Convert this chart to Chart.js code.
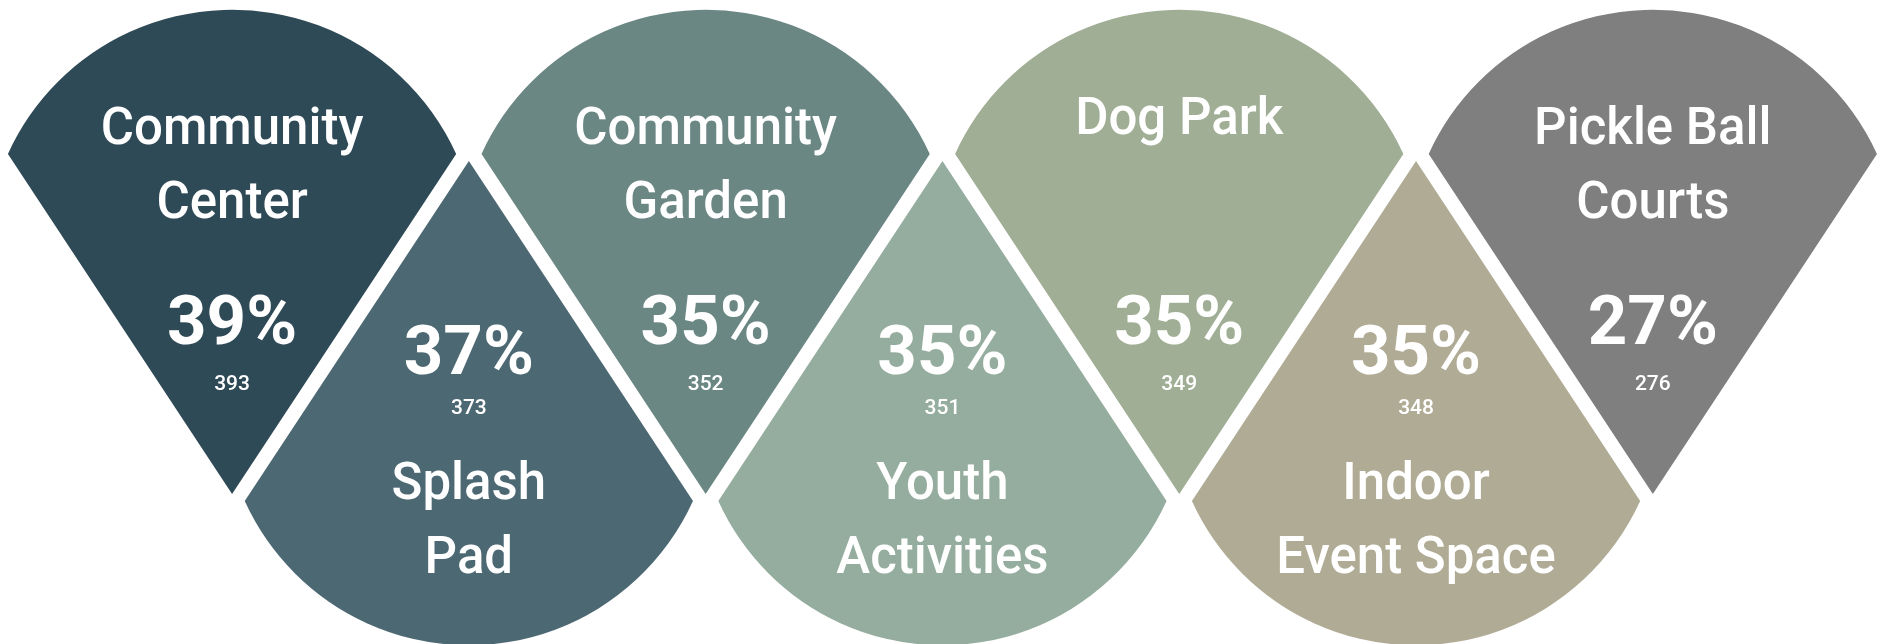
<!DOCTYPE html>
<html>
<head>
<meta charset="utf-8">
<title>Amenity Interest</title>
<script src="https://cdn.jsdelivr.net/npm/chart.js@4.4.1/dist/chart.umd.min.js"></script>
<style>
    html, body { margin: 0; padding: 0; background: #ffffff; }
    #pinChart { display: block; }
</style>
</head>
<body>
<canvas id="pinChart" width="1883" height="644"></canvas>
<script>
// Chart data
const categories = [
    ['Community', 'Center'],
    ['Splash', 'Pad'],
    ['Community', 'Garden'],
    ['Youth', 'Activities'],
    ['Dog Park'],
    ['Indoor', 'Event Space'],
    ['Pickle Ball', 'Courts']
];
const percentages = [39, 37, 35, 35, 35, 35, 27];
const counts = [393, 373, 352, 351, 349, 348, 276];

const colors = ['#2f4a57', '#4c6873', '#6b8784', '#95ad9e', '#a0ae95', '#b0ab95', '#7f7f7f'];

// shape geometry, in units of one category step on the x axis
const RADIUS = 1.04;
const CHORD = 0.431;
const TIP = 1.005;

document.addEventListener('DOMContentLoaded', function() {
    initializeChart();
});

// even items hang from the top row, odd items stand on the bottom row
function rowOf(i) {
    return i % 2 === 0 ? 1 : 0;
}

const pinPlugin = {
    id: 'pinShapes',
    afterDatasetsDraw(chart) {
        const ctx = chart.ctx;
        const xs = chart.scales.x;
        const step = xs.getPixelForValue(1) - xs.getPixelForValue(0);
        const r = step * RADIUS;
        const h = step * CHORD;
        const tip = step * TIP;
        const a = Math.asin(h / r);
        const meta = chart.getDatasetMeta(0);

        meta.data.forEach((pt, i) => {
            const cx = pt.x;
            const cy = pt.y;
            const top = rowOf(i) === 1;

            ctx.save();
            ctx.beginPath();
            if (top) {
                ctx.moveTo(cx, cy + tip);
                ctx.arc(cx, cy, r, -a, -Math.PI + a, true);
            } else {
                ctx.moveTo(cx, cy - tip);
                ctx.arc(cx, cy, r, a, Math.PI - a, false);
            }
            ctx.closePath();
            ctx.fillStyle = colors[i];
            ctx.fill();

            // texts
            ctx.fillStyle = '#ffffff';
            ctx.textAlign = 'center';
            ctx.textBaseline = 'alphabetic';
            const lines = categories[i];
            const pctText = percentages[i] + '%';
            const cntText = String(counts[i]);

            if (top) {
                ctx.font = '500 51px Roboto';
                if (lines.length === 1) {
                    ctx.fillText(lines[0], cx, cy - 122);
                } else {
                    ctx.fillText(lines[0], cx, cy - 112);
                    ctx.fillText(lines[1], cx, cy - 38);
                }
                ctx.font = 'bold 69px Roboto';
                ctx.fillText(pctText, cx, cy + 88);
                ctx.font = '500 21px Roboto';
                ctx.fillText(cntText, cx, cy + 134);
            } else {
                ctx.font = 'bold 69px Roboto';
                ctx.fillText(pctText, cx, cy - 25);
                ctx.font = '500 21px Roboto';
                ctx.fillText(cntText, cx, cy + 15);
                ctx.font = '500 51px Roboto';
                ctx.fillText(lines[0], cx, cy + 100);
                if (lines.length > 1) {
                    ctx.fillText(lines[1], cx, cy + 174);
                }
            }
            ctx.restore();
        });
    }
};

function initializeChart() {
    const canvas = document.getElementById('pinChart');
    new Chart(canvas, {
        type: 'scatter',
        data: {
            labels: categories.map(c => c.join(' ')),
            datasets: [{
                label: 'Interest',
                data: categories.map((c, i) => ({ x: i, y: rowOf(i) })),
                pointRadius: 0,
                pointHoverRadius: 0
            }]
        },
        options: {
            responsive: false,
            animation: false,
            devicePixelRatio: 1,
            layout: { padding: 0 },
            plugins: {
                legend: { display: false },
                tooltip: { enabled: false }
            },
            scales: {
                x: { type: 'linear', min: -0.980, max: 6.972, display: false },
                y: { type: 'linear', min: -1.713, max: 2.790, display: false }
            }
        },
        plugins: [pinPlugin]
    });
}
</script>
</body>
</html>
